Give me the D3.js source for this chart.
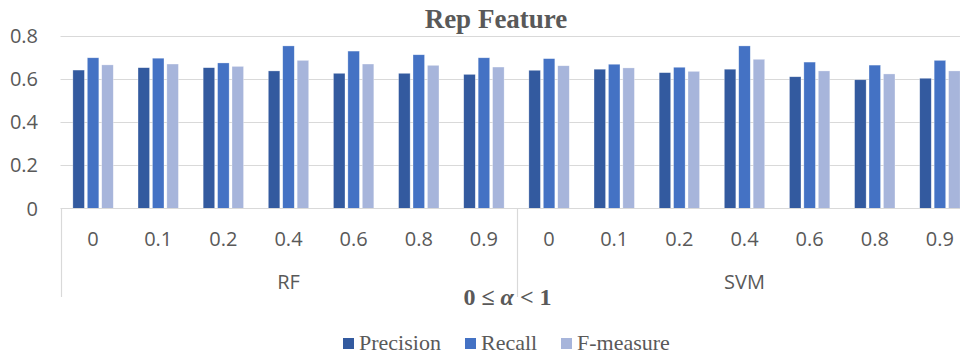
<!DOCTYPE html>
<html>
<head>
<meta charset="utf-8">
<script src="https://cdn.jsdelivr.net/npm/d3@7"></script>
<style>
  html, body { margin: 0; padding: 0; background: #fff; }
  svg { display: block; }
</style>
</head>
<body>
<svg id="chart" width="960" height="357"></svg>
<script>
// ---- data ----
const groups = ["RF", "SVM"];
const alphas = ["0", "0.1", "0.2", "0.4", "0.6", "0.8", "0.9"];
const seriesNames = ["Precision", "Recall", "F-measure"];
const precision = [0.642, 0.653, 0.653, 0.638, 0.627, 0.627, 0.622,
                   0.641, 0.646, 0.630, 0.646, 0.611, 0.597, 0.604];
const recall    = [0.699, 0.697, 0.675, 0.754, 0.730, 0.713, 0.699,
                   0.695, 0.669, 0.655, 0.754, 0.679, 0.665, 0.687];
const fmeasure  = [0.666, 0.670, 0.659, 0.687, 0.670, 0.664, 0.656,
                   0.662, 0.652, 0.636, 0.692, 0.638, 0.624, 0.638];
const yTicks = [0, 0.2, 0.4, 0.6, 0.8];
const colors = ["#335A9F", "#4472C4", "#A7B5DB"];

const categories = [];
groups.forEach(g => alphas.forEach(a => categories.push(g + "|" + a)));
const seriesValues = [precision, recall, fmeasure];
const rows = categories.map((c, i) => ({
  key: c,
  values: seriesNames.map((s, j) => ({ series: s, value: seriesValues[j][i], idx: j }))
}));

// ---- layout ----
const svg = d3.select("#chart");
const left = 60.5, right = 972.5, y0 = 208.5, yTop = 36;
const grey = "#595959", gridC = "#d9d9d9";
const sans = "'Open Sans', 'Noto Sans', sans-serif";
const serif = "'Liberation Serif', 'DejaVu Serif', serif";

const y = d3.scaleLinear().domain([0, 0.8]).range([y0, yTop]);
const x0 = d3.scaleBand().domain(categories).range([left, right]).paddingInner(0.38).paddingOuter(0.19);
const x1 = d3.scaleBand().domain(seriesNames).range([0, x0.bandwidth()]).paddingInner(0.2);
const xg = d3.scaleBand().domain(groups).range([left, right]);

// gridlines
svg.append("g").selectAll("line").data(yTicks.filter(d => d > 0)).join("line")
  .attr("x1", left).attr("x2", 960)
  .attr("y1", d => Math.round(y(d)) + 0.5).attr("y2", d => Math.round(y(d)) + 0.5)
  .attr("stroke", gridC).attr("stroke-width", 1);

// y labels
svg.append("g").selectAll("text").data(yTicks).join("text")
  .attr("x", 38).attr("y", d => y(d) + 7)
  .attr("text-anchor", "end")
  .attr("font-family", sans).attr("font-size", 20).attr("fill", grey)
  .text(d => d === 0 ? "0" : d3.format(".1f")(d));

// bars
svg.append("g").selectAll("g").data(rows).join("g")
  .attr("transform", d => `translate(${x0(d.key)},0)`)
  .selectAll("rect").data(d => d.values).join("rect")
  .attr("x", d => x1(d.series))
  .attr("width", x1.bandwidth())
  .attr("y", d => y(d.value))
  .attr("height", d => y0 - y(d.value))
  .attr("fill", d => colors[d.idx])
  .attr("stroke", "#ffffff").attr("stroke-opacity", 0.5).attr("stroke-width", 0.6);

// x axis line
svg.append("line").attr("x1", left).attr("x2", 960).attr("y1", y0).attr("y2", y0)
  .attr("stroke", gridC).attr("stroke-width", 1.2);

// group dividers
const divX = groups.map(g => xg(g)).concat([right]);
svg.append("g").selectAll("line").data(divX).join("line")
  .attr("x1", d => Math.round(d) + 0.5).attr("x2", d => Math.round(d) + 0.5)
  .attr("y1", y0).attr("y2", 297)
  .attr("stroke", gridC).attr("stroke-width", 1.2);

// x tick labels (via axis)
const xAxis = d3.axisBottom(x0).tickSize(0).tickFormat(k => k.split("|")[1]);
const ax = svg.append("g").attr("transform", `translate(0,${y0})`).call(xAxis);
ax.select(".domain").remove();
ax.selectAll("text").attr("y", 0).attr("dy", 0)
  .attr("transform", "translate(0,37)")
  .attr("font-family", sans).attr("font-size", 20).attr("fill", grey);

// group labels
svg.append("g").selectAll("text").data(groups).join("text")
  .attr("x", g => xg(g) + xg.bandwidth() / 2)
  .attr("y", 289)
  .attr("text-anchor", "middle")
  .attr("font-family", sans).attr("font-size", 20).attr("fill", grey)
  .text(g => g);

// title
svg.append("text").attr("x", 496).attr("y", 28).attr("text-anchor", "middle")
  .attr("font-family", serif).attr("font-weight", "bold").attr("font-size", 27).attr("fill", grey)
  .text("Rep Feature");

// axis title
const at = svg.append("text").attr("x", 507.5).attr("y", 305).attr("text-anchor", "middle")
  .attr("font-family", serif).attr("font-weight", "bold").attr("font-size", 24).attr("fill", grey);
at.append("tspan").text("0 ≤ ");
at.append("tspan").attr("font-style", "italic").text("α");
at.append("tspan").text(" < 1");

// legend
const legX = [343, 465, 561];
const leg = svg.append("g").selectAll("g").data(seriesNames).join("g")
  .attr("transform", (d, i) => `translate(${legX[i]},338)`);
leg.append("rect").attr("width", 11).attr("height", 11).attr("fill", (d, i) => colors[i]);
leg.append("text").attr("x", 16).attr("y", 12)
  .attr("font-family", serif).attr("font-size", 22).attr("fill", grey)
  .text(d => d);
</script>
</body>
</html>
